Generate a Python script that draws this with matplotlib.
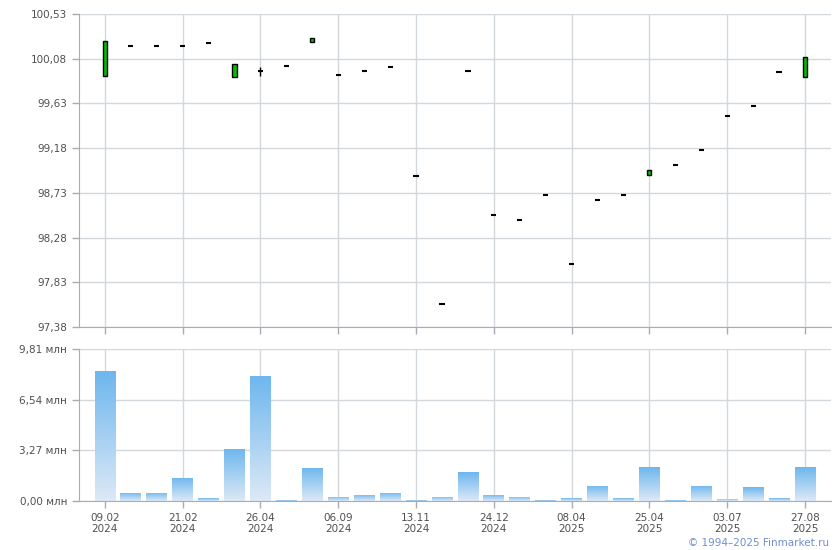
import numpy as np
import matplotlib
matplotlib.use("Agg")
import matplotlib.pyplot as plt
from matplotlib.patches import Rectangle
from matplotlib.ticker import FixedLocator, FuncFormatter

# --- data ---
open_px = [99.91, 100.205, 100.205, 100.205, 100.238, 99.90, 99.956, 100.004, 100.25, 99.913,
           99.953, 99.994, 98.897, 97.608, 99.953, 98.504, 98.454, 98.705, 98.011, 98.655,
           98.705, 98.91, 99.007, 99.161, 99.503, 99.601, 99.946, 99.90]
close_px = [100.26, 100.205, 100.205, 100.205, 100.238, 100.03, 99.956, 100.004, 100.29, 99.913,
            99.953, 99.994, 98.897, 97.608, 99.953, 98.504, 98.454, 98.705, 98.011, 98.655,
            98.705, 98.96, 99.007, 99.161, 99.503, 99.601, 99.946, 100.10]
high_px = [100.26, 100.205, 100.205, 100.205, 100.238, 100.03, 100.0, 100.004, 100.29, 99.913,
           99.953, 99.994, 98.897, 97.608, 99.953, 98.504, 98.454, 98.705, 98.011, 98.655,
           98.705, 98.96, 99.007, 99.161, 99.503, 99.601, 99.946, 100.10]
low_px = [99.91, 100.205, 100.205, 100.205, 100.238, 99.90, 99.91, 100.004, 100.25, 99.913,
          99.953, 99.994, 98.897, 97.608, 99.953, 98.504, 98.454, 98.705, 98.011, 98.655,
          98.705, 98.91, 99.007, 99.161, 99.503, 99.601, 99.946, 99.90]
volume_mln = [8.39, 0.52, 0.52, 1.50, 0.19, 3.36, 8.07, 0.06, 2.13, 0.26,
              0.39, 0.52, 0.06, 0.26, 1.87, 0.39, 0.26, 0.06, 0.19, 0.97,
              0.19, 2.19, 0.06, 0.97, 0.13, 0.90, 0.19, 2.19]
tick_idx = [0, 3, 6, 9, 12, 15, 18, 21, 24, 27]
tick_labels = ["09.02\n2024", "21.02\n2024", "26.04\n2024", "06.09\n2024", "13.11\n2024",
               "24.12\n2024", "08.04\n2025", "25.04\n2025", "03.07\n2025", "27.08\n2025"]
price_ticks = [97.38, 97.83, 98.28, 98.73, 99.18, 99.63, 100.08, 100.53]
vol_ticks = [0.0, 3.27, 6.54, 9.81]

grid_c = "#d3d8dc"
spine_c = "#a9adb3"
text_c = "#505050"

plt.rcParams["font.family"] = ["DejaVu Sans"]
plt.rcParams["font.size"] = 7.5

fig = plt.figure(figsize=(8.4, 5.5), dpi=100)
ax1 = fig.add_axes([0.0940, 0.40545, 0.8952, 0.5691])
ax2 = fig.add_axes([0.0940, 0.08909, 0.8952, 0.27636])

n = len(open_px)
x = np.arange(n)

for ax in (ax1, ax2):
    ax.set_xlim(-1, n)
    ax.xaxis.set_major_locator(FixedLocator(tick_idx))
    ax.grid(True, color=grid_c, lw=1)
    ax.set_axisbelow(True)
    for s in ("top", "right"):
        ax.spines[s].set_visible(False)
    for s in ("left", "bottom"):
        ax.spines[s].set_color(spine_c)
    ax.tick_params(colors=spine_c, labelcolor=text_c, length=5, width=1)

# price panel
ax1.set_ylim(price_ticks[0], price_ticks[-1])
ax1.yaxis.set_major_locator(FixedLocator(price_ticks))
ax1.yaxis.set_major_formatter(FuncFormatter(lambda v, p: f"{v:.2f}".replace(".", ",")))
ax1.set_xticklabels([])

w = 0.16
for i in range(n):
    o, c, h, l = open_px[i], close_px[i], high_px[i], low_px[i]
    if h > max(o, c) or l < min(o, c):
        ax1.vlines(i, l, h, color="black", lw=1, zorder=3)
    if abs(c - o) < 1e-6:
        ax1.hlines(o, i - w / 2 - 0.02, i + w / 2 + 0.02, color="black", lw=1.5, zorder=4)
    else:
        fc = "#00c000" if c > o else "#e00000"
        ax1.add_patch(Rectangle((i - w / 2, min(o, c)), w, abs(c - o),
                                facecolor=fc, edgecolor="black", lw=1, zorder=4))

# volume panel with gradient bars
ax2.set_ylim(vol_ticks[0], vol_ticks[-1])
ax2.yaxis.set_major_locator(FixedLocator(vol_ticks))
ax2.yaxis.set_major_formatter(FuncFormatter(lambda v, p: f"{v:.2f}".replace(".", ",") + " млн"))
ax2.set_xticklabels(tick_labels)

grad = np.linspace(0, 1, 256).reshape(-1, 1)
cmap = matplotlib.colors.LinearSegmentedColormap.from_list("vol", ["#dde9f6", "#6db6ee"])
bars = ax2.bar(x, volume_mln, width=0.8, color="none", edgecolor="none", zorder=2)
for b, v in zip(bars, volume_mln):
    x0 = b.get_x()
    im = ax2.imshow(grad, extent=(x0, x0 + b.get_width(), 0, v), origin="lower",
                    cmap=cmap, aspect="auto", zorder=2)
    im.set_clip_path(b)
ax2.set_xlim(-1, n)
ax2.set_ylim(vol_ticks[0], vol_ticks[-1])

fig.text(0.987, 0.004, "© 1994–2025 Finmarket.ru", ha="right", va="bottom",
         color="#6f8fd2", fontsize=7.5)

fig.savefig("out.png", dpi=100)
